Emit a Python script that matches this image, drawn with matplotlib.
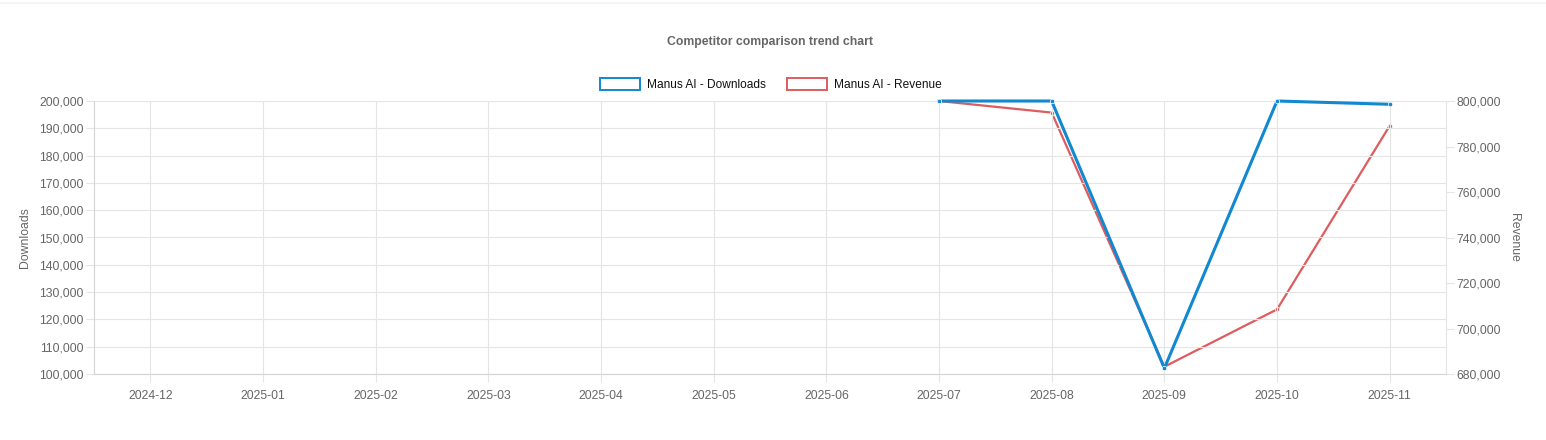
import numpy as np
import matplotlib
matplotlib.use('Agg')
import matplotlib.pyplot as plt
from matplotlib.patches import Rectangle
from matplotlib.ticker import FuncFormatter, MultipleLocator

# chart data
months = [
    '2024-12', '2025-01', '2025-02', '2025-03', '2025-04', '2025-05',
    '2025-06', '2025-07', '2025-08', '2025-09', '2025-10', '2025-11'
]
downloads = [
    np.nan, np.nan, np.nan, np.nan, np.nan, np.nan,
    np.nan, 200000, 200000, 102100, 200000, 198800
]
revenue = [
    np.nan, np.nan, np.nan, np.nan, np.nan, np.nan,
    np.nan, 800000, 794900, 683200, 708400, 789100
]

series_labels = ['Manus AI - Downloads', 'Manus AI - Revenue']
blue = '#1188d0'
red = '#de5c5e'
grid_c = '#e5e5e5'
axis_c = '#d4d4d4'
text_c = '#666666'

plt.rcParams['font.family'] = ['Liberation Sans', 'DejaVu Sans']

W, H = 1546, 440
fig = plt.figure(figsize=(W / 100, H / 100), dpi=100)

# plot area in pixels
left, right, top, bottom = 94, 1446, 101, 374
ax = fig.add_axes([
    left / W, (H - bottom) / H, (right - left) / W, (bottom - top) / H
])
ax2 = ax.twinx()

x = np.arange(len(months))

# keep downloads on top of revenue
ax.set_zorder(ax2.get_zorder() + 1)
ax.patch.set_visible(False)

ax.plot(
    x, downloads, color=blue, linewidth=2.2, marker='o', markersize=3.2,
    markerfacecolor=blue, markeredgecolor='white', markeredgewidth=0.5,
    clip_on=False, zorder=3
)
ax2.plot(
    x, revenue, color=red, linewidth=1.6, marker='o', markersize=3.0,
    markerfacecolor=red, markeredgecolor='white', markeredgewidth=0.5,
    clip_on=False, zorder=3
)

ax.set_xlim(-0.5, len(months) - 0.5)
ax.set_ylim(100000, 200000)
ax2.set_ylim(680000, 800000)
ax.yaxis.set_major_locator(MultipleLocator(10000))
ax2.yaxis.set_major_locator(MultipleLocator(20000))

fmt = FuncFormatter(lambda v, p: f'{int(v):,}')
ax.yaxis.set_major_formatter(fmt)
ax2.yaxis.set_major_formatter(fmt)

ax.set_xticks(x)
ax.set_xticklabels(months)

ax.grid(True, color=grid_c, linewidth=0.8, zorder=0)
ax.set_axisbelow(True)

for a in (ax, ax2):
    for s in a.spines.values():
        s.set_visible(False)
ax.spines['left'].set_visible(True)
ax.spines['left'].set_color(axis_c)
ax.spines['bottom'].set_visible(True)
ax.spines['bottom'].set_color(axis_c)
ax2.spines['right'].set_visible(True)
ax2.spines['right'].set_color(grid_c)

ax.tick_params(
    axis='both', colors=grid_c, labelcolor=text_c, labelsize=8.8,
    length=5.5, width=0.8, pad=2
)
ax.tick_params(axis='x', pad=6)
ax2.tick_params(
    axis='y', colors=grid_c, labelcolor=text_c, labelsize=8.8,
    length=5.5, width=0.8, pad=2
)

ax.set_ylabel('Downloads', color=text_c, fontsize=8.8, labelpad=6)
ax2.set_ylabel(
    'Revenue', color=text_c, fontsize=8.8, rotation=-90, labelpad=14
)

# title
fig.text(
    770 / W, 1 - 42 / H, 'Competitor comparison trend chart',
    ha='center', va='center', fontsize=8.8, fontweight='bold', color=text_c
)

# legend drawn like chart.js boxes
legend_items = [(600, blue, series_labels[0]), (787, red, series_labels[1])]
for bx, col, lab in legend_items:
    fig.patches.append(Rectangle(
        (bx / W, 1 - 90 / H), 40 / W, 12 / H, transform=fig.transFigure,
        facecolor='white', edgecolor=col, linewidth=1.4
    ))
    fig.text(
        (bx + 47) / W, 1 - 84.5 / H, lab, ha='left', va='center',
        fontsize=8.6, color='#111111'
    )

# faint top border line
fig.add_artist(plt.Line2D(
    [0, 1], [1 - 3 / H, 1 - 3 / H], transform=fig.transFigure,
    color='#f3f3f3', linewidth=1.2
))

fig.savefig('out.png', dpi=100)
plt.close()
